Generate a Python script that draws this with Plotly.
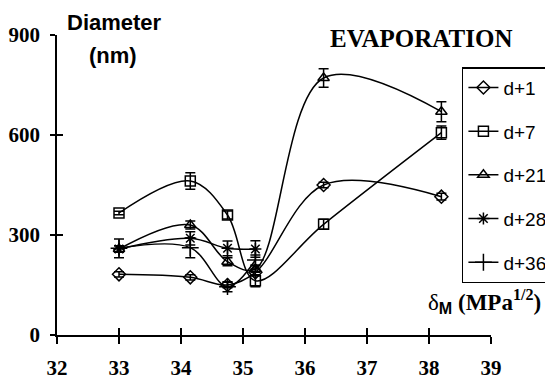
import plotly.graph_objects as go

x_vals = [33.0, 34.15, 34.75, 35.2, 36.3, 38.2]
x_short = [33.0, 34.15, 34.75, 35.2]

d1 = [182, 173, 150, 188, 450, 415]
d1_err = [8, 8, 8, 10, 8, 10]
d7 = [366, 462, 360, 163, 332, 607]
d7_err = [5, 25, 12, 18, 15, 20]
d21 = [258, 330, 220, 198, 771, 670]
d21_err = [10, 12, 12, 10, 28, 30]
d28 = [258, 290, 260, 258]
d28_err = [10, 20, 22, 25]
d36 = [260, 262, 145, 225]
d36_err = [28, 30, 15, 15]

x_ticks = [32, 33, 34, 35, 36, 37, 38, 39]
y_ticks = [0, 300, 600, 900]

series = [
    ("d+1", x_vals, d1, d1_err, "diamond-open", 10),
    ("d+7", x_vals, d7, d7_err, "square-open", 10),
    ("d+21", x_vals, d21, d21_err, "triangle-up-open", 10),
    ("d+28", x_short, d28, d28_err, "asterisk-open", 10),
    ("d+36", x_short, d36, d36_err, "cross-thin-open", 12),
]

fig = go.Figure()
for i, (name, xs, ys, es, sym, sz) in enumerate(series):
    fig.add_trace(go.Scatter(
        x=xs, y=ys, name=name, mode="lines+markers",
        legendgroup=f"g{i}",
        line=dict(color="black", width=1.5, shape="spline", smoothing=1.0),
        marker=dict(symbol=sym, size=sz, color="black",
                    line=dict(color="black", width=1.5)),
        error_y=dict(type="data", array=es, visible=True,
                     color="black", thickness=1.5, width=5),
    ))

serif = "Liberation Serif"
sans = "Liberation Sans"

fig.update_layout(
    width=545, height=379,
    margin=dict(l=57, r=54, t=35, b=44, autoexpand=False),
    paper_bgcolor="white", plot_bgcolor="white",
    font=dict(family=serif, color="black"),
    showlegend=True,
    legend=dict(
        x=0.933, y=0.893, xanchor="left", yanchor="top",
        bordercolor="black", borderwidth=1.5, bgcolor="white",
        font=dict(family=sans, size=19, color="black"),
        tracegroupgap=16, itemwidth=30,
    ),
    xaxis=dict(
        range=[32, 39], tickvals=x_ticks, ticktext=[f"<b>{v}</b>" for v in x_ticks],
        showgrid=False, zeroline=False, showline=True, linecolor="black",
        linewidth=1.5, ticks="outside", ticklen=7, tickwidth=1.5,
        tickcolor="black", ticklabelstandoff=6,
        tickfont=dict(family=serif, size=21, color="black"),
    ),
    yaxis=dict(
        range=[0, 900], tickvals=y_ticks, ticktext=[f"<b>{v}</b>" for v in y_ticks],
        showgrid=False, zeroline=False, showline=True, linecolor="black",
        linewidth=1.5, ticks="outside", ticklen=5, tickwidth=1.5,
        tickcolor="black", ticklabelstandoff=6,
        tickfont=dict(family=serif, size=21, color="black"),
    ),
    xaxis2=dict(
        range=[32, 39], tickvals=x_ticks, overlaying="x", anchor="y",
        showticklabels=False, showgrid=False, zeroline=False,
        ticks="inside", ticklen=7, tickwidth=1.5, tickcolor="black",
    ),
    yaxis2=dict(
        range=[0, 900], tickvals=y_ticks[1:], overlaying="y", anchor="x",
        showticklabels=False, showgrid=False, zeroline=False,
        ticks="inside", ticklen=6, tickwidth=1.5, tickcolor="black",
    ),
    annotations=[
        dict(text="<b>EVAPORATION</b>", xref="paper", yref="paper",
             x=(421 - 57) / 434, y=(335 - 38) / 300, showarrow=False,
             xanchor="center", yanchor="middle",
             font=dict(family=serif, size=25, color="black")),
        dict(text="<b>Diameter</b>", xref="paper", yref="paper",
             x=(114 - 57) / 434, y=(335 - 23) / 300, showarrow=False,
             xanchor="center", yanchor="middle",
             font=dict(family=sans, size=22, color="black")),
        dict(text="<b>(nm)</b>", xref="paper", yref="paper",
             x=(113 - 57) / 434, y=(335 - 56) / 300, showarrow=False,
             xanchor="center", yanchor="middle",
             font=dict(family=sans, size=22, color="black")),
        dict(text="δ<sub><span style='font-family:Liberation Sans'><b>M</b></span></sub> <b>(MPa<sup>1/2</sup>)</b>",
             xref="paper", yref="paper",
             x=(543 - 57) / 434, y=(335 - 301) / 300, showarrow=False,
             xanchor="right", yanchor="middle",
             font=dict(family=serif, size=23, color="black")),
    ],
)

fig.add_trace(go.Scatter(x=[32], y=[0], xaxis="x2", yaxis="y2", mode="markers",
                         marker=dict(opacity=0), showlegend=False, hoverinfo="skip"))

fig.write_html("out.html")
